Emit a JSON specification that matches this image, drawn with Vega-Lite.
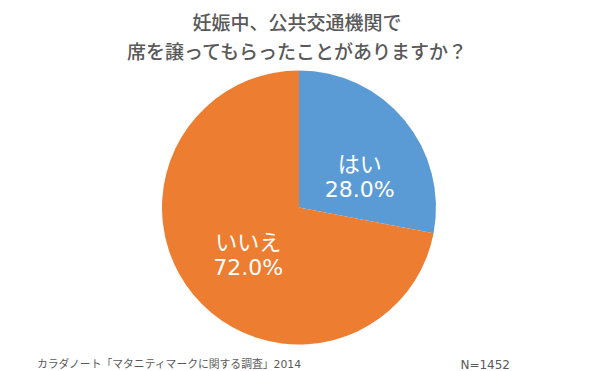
{
  "$schema": "https://vega.github.io/schema/vega-lite/v6.json",
  "background": "white",
  "padding": {"left": 37, "top": 15, "right": 0, "bottom": 2},
  "autosize": {"type": "pad"},
  "spacing": 13,
  "config": {"view": {"stroke": null}, "font": "Noto Sans CJK JP"},
  "datasets": {
    "answers": [
      {"answer": "はい", "share": 0.28},
      {"answer": "いいえ", "share": 0.72}
    ],
    "notes": [
      {"note": "カラダノート「マタニティマークに関する調査」2014", "side": "left"},
      {"note": "N=1452", "side": "right"}
    ]
  },
  "vconcat": [
    {
      "width": 524,
      "height": 277,
      "title": {
        "text": ["妊娠中、公共交通機関で", "席を譲ってもらったことがありますか？"],
        "fontSize": 19,
        "fontWeight": 500,
        "color": "#595959",
        "lineHeight": 29,
        "offset": 6,
        "anchor": "middle",
        "font": "Noto Sans CJK JP",
        "dx": -2
      },
      "data": {"name": "answers"},
      "transform": [
        {"calculate": "[datum.answer, format(datum.share, '.1%')]", "as": "label"}
      ],
      "encoding": {
        "theta": {"field": "share", "type": "quantitative", "stack": true},
        "order": {"field": "share", "type": "quantitative", "sort": "ascending"},
        "color": {
          "field": "answer",
          "type": "nominal",
          "scale": {"domain": ["はい", "いいえ"], "range": ["#5B9BD5", "#ED7D31"]},
          "legend": null
        }
      },
      "layer": [
        {"mark": {"type": "arc", "outerRadius": 137}},
        {
          "mark": {"type": "text", "radius": 75, "dx": 3, "dy": 5, "fontSize": 22, "lineHeight": 25, "font": "DejaVu Sans, Noto Sans CJK JP", "align": "center", "baseline": "middle", "fill": "white"},
          "encoding": {
            "text": {"condition": {"test": "datum.answer === 'はい'", "field": "label"}, "value": ""},
            "color": {"value": "white"}
          }
        },
        {
          "mark": {"type": "text", "radius": 62, "dx": -3, "dy": -4, "fontSize": 22, "lineHeight": 25, "font": "DejaVu Sans, Noto Sans CJK JP", "align": "center", "baseline": "middle", "fill": "white"},
          "encoding": {
            "text": {"condition": {"test": "datum.answer === 'いいえ'", "field": "label"}, "value": ""},
            "color": {"value": "white"}
          }
        }
      ]
    },
    {
      "width": 473,
      "height": 10,
      "data": {"name": "notes"},
      "encoding": {
        "x": {"field": "side", "type": "nominal", "scale": {"type": "point", "padding": 0, "domain": ["left", "right"]}, "axis": null},
        "text": {"field": "note"}
      },
      "layer": [
        {
          "transform": [{"filter": "datum.side === 'left'"}],
          "mark": {"type": "text", "align": "left", "baseline": "middle", "fontSize": 10.8, "font": "DejaVu Sans, Noto Sans CJK JP", "color": "#595959"}
        },
        {
          "transform": [{"filter": "datum.side === 'right'"}],
          "mark": {"type": "text", "align": "right", "baseline": "middle", "fontSize": 12, "font": "DejaVu Sans, Noto Sans CJK JP", "color": "#595959"}
        }
      ]
    }
  ]
}
